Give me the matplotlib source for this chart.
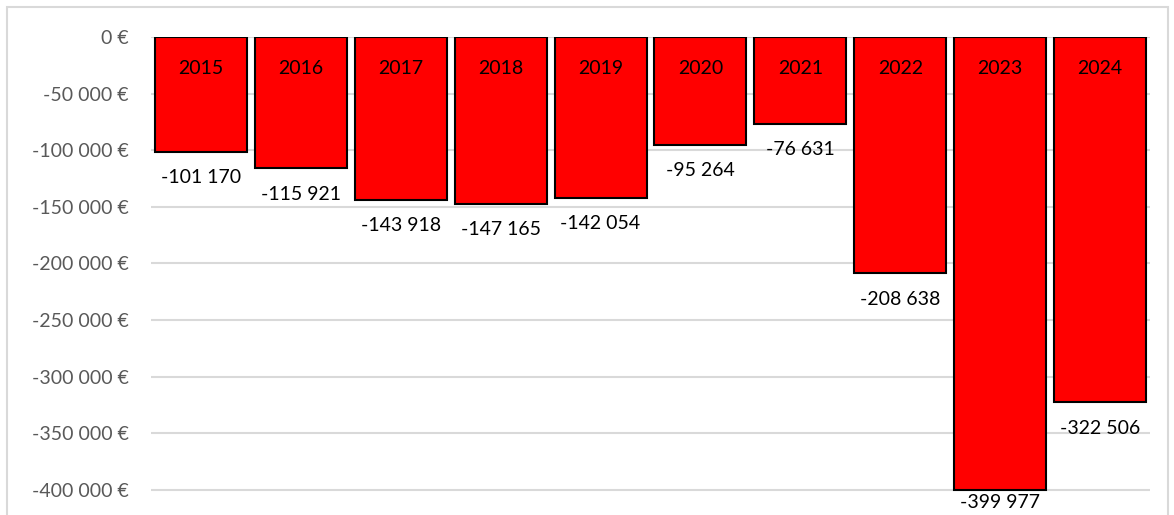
import matplotlib.pyplot as plt
from matplotlib.patches import Rectangle

years = ["2015", "2016", "2017", "2018", "2019", "2020", "2021", "2022", "2023", "2024"]
values = [-101170, -115921, -143918, -147165, -142054, -95264, -76631, -208638, -399977, -322506]
yticks = [0, -50000, -100000, -150000, -200000, -250000, -300000, -350000, -400000]


def fmt(v):
    return f"{v:,}".replace(",", " ")


plt.rcParams["font.family"] = ["Lato", "DejaVu Sans"]

fig = plt.figure(figsize=(11.74, 5.15), dpi=100)
ax = fig.add_axes([151 / 1174, 0, (1150 - 151) / 1174, 1 - 37 / 515])

x = range(len(years))
bars = ax.bar(x, values, width=0.92, color="#ff0000", edgecolor="black", linewidth=1.5, zorder=3)

ax.set_xlim(-0.5, len(years) - 0.5)
ax.set_ylim(-422300, 0)

# labels below bars, kept inside the figure like Excel does
for i, v in enumerate(values):
    ax.annotate(years[i], (i, 0), xytext=(0, -32), textcoords="offset pixels",
                ha="center", va="center", fontsize=14, color="black", zorder=4)
    px = ax.transData.transform((i, v))[1] - 26
    px = max(px, 13)
    ly = ax.transData.inverted().transform((0, px))[1]
    ax.text(i, ly, fmt(v), ha="center", va="center", fontsize=14, color="black",
            zorder=4, clip_on=False)

ax.set_yticks(yticks)
ax.set_yticklabels([fmt(t) + " €" for t in yticks], fontsize=14, color="#595959")
ax.set_xticks([])
ax.tick_params(axis="y", length=0, pad=16)
ax.yaxis.grid(True, color="#d9d9d9", linewidth=1.5, zorder=0)
for s in ax.spines.values():
    s.set_visible(False)

fig.patches.append(Rectangle((7 / 1174, -0.1), (1168 - 7) / 1174, 1.1 - 7 / 515,
                             transform=fig.transFigure, fill=False,
                             edgecolor="#d9d9d9", linewidth=1.5))

fig.savefig("out.png", dpi=100)
